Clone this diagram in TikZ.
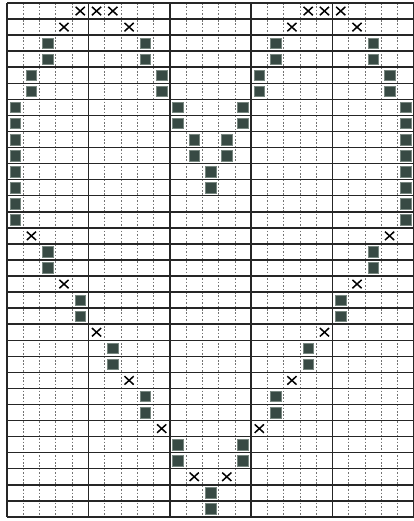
\documentclass[tikz,border=0pt]{standalone}
\definecolor{sqc}{RGB}{56,74,68}
\definecolor{sqe}{RGB}{120,135,128}
\begin{document}
\begin{tikzpicture}[x=1pt,y=-1pt,
  hline/.style={line width=1.5pt, black!85},
  vdot/.style={line width=0.8pt, black!55, dash pattern=on 1.6pt off 1.8pt},
  vheavy/.style={line width=1.6pt, black!85},
  stitch/.style={fill=sqc, draw=sqe, line width=0.6pt},
  cross/.style={line width=1.5pt, black}]
\fill[white] (0,0) rectangle (414,521);
\useasboundingbox (0,0) rectangle (414,521);
% dotted column lines
\foreach \c in {1,2,3,4,6,7,8,9,11,12,13,14,16,17,18,19,21,22,23,24}
  \draw[vdot] ({7+\c*16.28},3) -- ({7+\c*16.28},{3+32*16.06});
% row lines
\foreach \r in {0,...,32}
  \draw[hline] (7,{3+\r*16.06}) -- ({7+25*16.28},{3+\r*16.06});
% heavy column lines
\foreach \c in {0,5,10,15,20,25}
  \draw[vheavy] ({7+\c*16.28},3) -- ({7+\c*16.28},{3+32*16.06});
% filled stitches
\foreach \c/\r in {2/2,8/2,16/2,22/2, 2/3,8/3,16/3,22/3,
  1/4,9/4,15/4,23/4, 1/5,9/5,15/5,23/5,
  0/6,10/6,14/6,24/6, 0/7,10/7,14/7,24/7,
  0/8,11/8,13/8,24/8, 0/9,11/9,13/9,24/9,
  0/10,12/10,24/10, 0/11,12/11,24/11,
  0/12,24/12, 0/13,24/13,
  2/15,22/15, 2/16,22/16,
  4/18,20/18, 4/19,20/19,
  6/21,18/21, 6/22,18/22,
  8/24,16/24, 8/25,16/25,
  10/27,14/27, 10/28,14/28,
  12/30, 12/31}
  \draw[stitch] ({7+(\c+0.5)*16.28-5.3},{3+(\r+0.5)*16.06-5.3}) rectangle ++(10.6,10.6);
% crosses
\foreach \c/\r in {4/0,5/0,6/0,18/0,19/0,20/0,
  3/1,7/1,17/1,21/1,
  1/14,23/14, 3/17,21/17, 5/20,19/20, 7/23,17/23,
  9/26,15/26, 11/29,13/29}
  \draw[cross] ({7+(\c+0.5)*16.28-4.6},{3+(\r+0.5)*16.06-4.2}) -- ++(9.2,8.4)
               ({7+(\c+0.5)*16.28+4.6},{3+(\r+0.5)*16.06-4.2}) -- ++(-9.2,8.4);
\end{tikzpicture}
\end{document}
